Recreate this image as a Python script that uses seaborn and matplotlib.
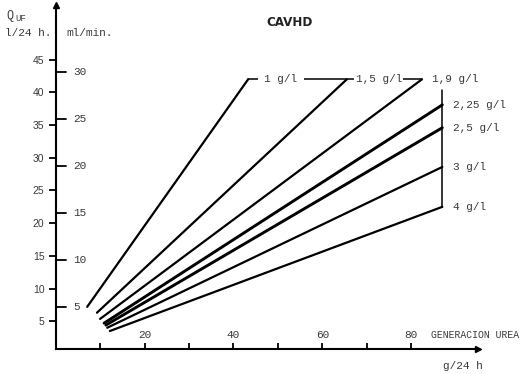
import pandas as pd
import seaborn as sns
import matplotlib.pyplot as plt

## Data
conc_labels = ['1 g/l', '1,5 g/l', '1,9 g/l', '2,25 g/l', '2,5 g/l', '3 g/l', '4 g/l']
start_g = [7.1, 9.3, 10.0, 10.9, 11.3, 11.6, 12.2]
start_q = [7.2, 6.3, 5.35, 4.7, 4.4, 4.0, 3.5]
end_g = [43.3, 65.5, 82.4, 87.0, 87.0, 87.0, 87.0]
end_q = [42.0, 42.0, 42.0, 38.1, 34.6, 28.6, 22.5]

q_ticks = [5, 10, 15, 20, 25, 30, 35, 40, 45]        # l/24 h
ml_ticks = [5, 10, 15, 20, 25, 30]                    # ml/min
g_ticks = [10, 20, 30, 40, 50, 60, 70, 80]
g_ticklabels = ['', '20', '', '40', '', '60', '', '80']
ml_to_l24 = 1.44

rows = []
for lab, g0, q0, g1, q1 in zip(conc_labels, start_g, start_q, end_g, end_q):
    rows.append({'conc': lab, 'g': g0, 'q': q0})
    rows.append({'conc': lab, 'g': g1, 'q': q1})
df = pd.DataFrame(rows)

## Style
sns.set_style('white')
plt.rcParams['font.family'] = ['Liberation Mono', 'DejaVu Sans Mono']
txt_color = '#3a3a3a'
fs = 8

fig = plt.figure(figsize=(5.2, 3.74), dpi=100)
ax = fig.add_axes([0.107, 0.066, 0.812, 0.921])

sizes = {c: (2.1 if c in ('2,25 g/l', '2,5 g/l') else 1.6) for c in conc_labels}
sns.lineplot(data=df, x='g', y='q', hue='conc', size='conc', sizes=sizes,
             palette=['black'] * len(conc_labels), estimator=None, sort=False,
             legend=False, ax=ax)

ax.set_xlim(0, 95)
ax.set_ylim(0.7, 53.4)
ax.set_xlabel('')
ax.set_ylabel('')
sns.despine(ax=ax, top=True, right=True)
for s in ('left', 'bottom'):
    ax.spines[s].set_color('black')
    ax.spines[s].set_linewidth(1.5)

# arrows at axis ends
ax.plot(1, 0, '>', color='black', ms=5, transform=ax.transAxes, clip_on=False)
ax.plot(0, 1, '^', color='black', ms=5, transform=ax.transAxes, clip_on=False)

# left ticks (l/24 h), sans labels
ax.set_yticks(q_ticks)
ax.set_yticklabels([str(t) for t in q_ticks], color=txt_color, fontsize=7.5,
                   family=['Liberation Sans', 'DejaVu Sans'])
ax.tick_params(axis='y', left=True, direction='out', length=5, width=1.3,
               color='black', pad=3)

# x ticks pointing up, labels above the axis
ax.set_xticks(g_ticks)
ax.set_xticklabels([''] * len(g_ticks))
ax.tick_params(axis='x', bottom=True, direction='in', length=4, width=1.3, color='black')
for t, lab in zip(g_ticks, g_ticklabels):
    if lab:
        ax.text(t, 2.1, lab, ha='center', va='bottom', fontsize=fs, color=txt_color)

# inner ml/min ticks
for m in ml_ticks:
    q = m * ml_to_l24
    ax.plot([0, 2.4], [q, q], color='black', lw=1.3, clip_on=False)
    ax.text(3.9, q, str(m), ha='left', va='center', fontsize=fs, color=txt_color)

# top leader line joining 1, 1.5 and 1.9 g/l
ax.plot([end_g[0], end_g[2]], [end_q[0], end_q[0]], color='black', lw=1.1, zorder=1)
ax.text(50.7, end_q[0], conc_labels[0], ha='center', va='center', fontsize=fs,
        color=txt_color, bbox=dict(facecolor='white', edgecolor='none', pad=4.5), zorder=3)
ax.text(72.7, end_q[1], conc_labels[1], ha='center', va='center', fontsize=fs,
        color=txt_color, bbox=dict(facecolor='white', edgecolor='none', pad=1.0), zorder=3)
ax.text(84.6, end_q[2], conc_labels[2], ha='left', va='center', fontsize=fs,
        color=txt_color, zorder=3)

# right bracket and labels
ax.plot([87, 87], [40.4, end_q[-1]], color='black', lw=1.1)
for lab, q in zip(conc_labels[3:], end_q[3:]):
    ax.text(89.3, q, lab, ha='left', va='center', fontsize=fs, color=txt_color,
            clip_on=False)

## Titles and axis texts
fig.text(0.013, 0.958, 'Q', fontsize=8.5, color=txt_color, va='center')
fig.text(0.030, 0.950, 'UF', fontsize=6.5, color=txt_color, va='center')
fig.text(0.009, 0.911, 'l/24 h.', fontsize=fs, color=txt_color, va='center')
fig.text(0.128, 0.911, 'ml/min.', fontsize=fs, color=txt_color, va='center')
fig.text(0.556, 0.941, 'CAVHD', fontsize=9.5, fontweight='bold', ha='center', va='center',
         family=['Liberation Sans Narrow', 'DejaVu Sans'], fontstretch='condensed',
         color='#222222')
ax.text(84.5, 2.1, 'GENERACION UREA', ha='left', va='bottom', fontsize=7,
        color=txt_color, clip_on=False)
fig.text(0.89, 0.021, 'g/24 h', fontsize=fs, ha='center', va='center', color=txt_color)

fig.savefig('out.png', dpi=100)
